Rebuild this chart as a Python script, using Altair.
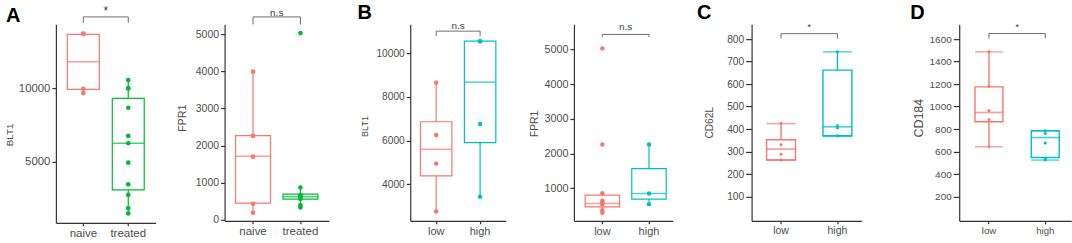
import altair as alt
import pandas as pd

FONT = "Liberation Sans"
RED = "#F8766D"
GREEN = "#00BA38"
CYAN = "#00BFC4"
AXIS_COL = "#333333"
LABEL_COL = "#4D4D4D"
BRACKET_COL = "#6E6E6E"

# ---------------- data ----------------
A_GROUPS = ["naive", "treated"]
B_GROUPS = ["low", "high"]
ALL_GROUPS = ["naive", "treated", "low", "high"]
GROUP_COLORS = [RED, GREEN, RED, CYAN]
PANEL_LETTERS = ["A", "B", "C", "D"]
Y_TITLES = ["BLT1", "FPR1", "BLT1", "FPR1", "CD62L", "CD184"]

# A - BLT1
A_BLT1_NAIVE = [13730, 13690, 9975, 9680]
A_BLT1_TREATED = [10560, 10010, 9990, 8680, 6770, 6270, 4950, 3480, 2760, 1860, 1500]
A_BLT1_Q1 = [9930, 3100]
A_BLT1_MED = [11805, 6270]
A_BLT1_Q3 = [13664, 9320]
A_BLT1_LO = [9680, 1500]
A_BLT1_HI = [13730, 10560]

# A - FPR1
A_FPR1_NAIVE = [3990, 2260, 1700, 430, 190]
A_FPR1_TREATED = [5030, 868, 664, 640, 618, 600, 560, 395, 331]
A_FPR1_Q1 = [449, 556]
A_FPR1_MED = [1712, 618]
A_FPR1_Q3 = [2266, 691]
A_FPR1_LO = [190, 331]
A_FPR1_HI = [3990, 868]

# B - BLT1
B_BLT1_LOW = [8650, 6256, 4943, 2750]
B_BLT1_HIGH = [10560, 10560, 6760, 3420]
B_BLT1_Q1 = [4380, 5910]
B_BLT1_MED = [5600, 8680]
B_BLT1_Q3 = [6865, 10560]
B_BLT1_LO = [2750, 3420]
B_BLT1_HI = [8650, 10560]

# B - FPR1
B_FPR1_LOW = [5030, 2260, 856, 635, 600, 540, 367, 289]
B_FPR1_HIGH = [2260, 845, 540]
B_FPR1_Q1 = [462, 683]
B_FPR1_MED = [557, 845]
B_FPR1_Q3 = [799, 1564]
B_FPR1_LO = [289, 540]
B_FPR1_HI = [856, 2260]

# C - CD62L
C_LOW = [424, 330, 288, 262]
C_HIGH = [743, 414, 404, 370]
C_Q1 = [262, 370]
C_MED = [311, 410]
C_Q3 = [352, 662]
C_LO = [262, 367]
C_HI = [424, 743]

# D - CD184
D_LOW = [1486, 1178, 962, 882, 642]
D_HIGH = [784, 760, 675, 541, 524]
D_Q1 = [864, 547]
D_MED = [947, 724]
D_Q3 = [1175, 784]
D_LO = [642, 524]
D_HI = [1486, 784]

# significance annotations
SIG_LABELS = ["*", "n.s", "n.s", "n.s", "*", "*"]
BRACKET_TOP = [14857, 5465, 11021, 5432, 824, 1649]
BRACKET_END = [14450, 5261, 10792, 5354, 802, 1604]
SIG_Y = [14972, 5497, 11110, 5570, 842, 1684]

# axis ranges and ticks
Y_DOMAINS = [[862, 14362], [-27, 5269], [2319, 11341], [59, 5728], [-8, 866], [-16, 1732]]
Y_TICKS = [
    [5000, 10000],
    [0, 1000, 2000, 3000, 4000, 5000],
    [4000, 6000, 8000, 10000],
    [1000, 2000, 3000, 4000, 5000],
    [100, 200, 300, 400, 500, 600, 700, 800],
    [200, 400, 600, 800, 1000, 1200, 1400, 1600],
]

# ---------------- layout / style (not data) ----------------
GEOM = [
    dict(W=100, H=199, s=45, c1=27.5, b=32, ylab=11.4, xlab=11.5, ts=9.8, tX=-46, tY=110.5, tick=4, ps=22, lw=1.2, sig=12, caps=False),
    dict(W=104.5, H=197, s=47.5, c1=28.5, b=35, ylab=10.5, xlab=11.5, ts=10.8, tX=-42.3, tY=93.7, tick=4, ps=22, lw=1.2, sig=10, caps=False),
    dict(W=95.7, H=197, s=44, c1=26, b=31.5, ylab=10.2, xlab=11, ts=9, tX=-46, tY=102, tick=4, ps=20, lw=1.2, sig=10, caps=False),
    dict(W=99, H=197, s=46.7, c1=28.5, b=34.5, ylab=10.8, xlab=11, ts=10.3, tX=-39.4, tY=99.5, tick=4, ps=20, lw=1.2, sig=10, caps=False),
    dict(W=110, H=197, s=56.5, c1=29.5, b=29, ylab=10.2, xlab=10.5, ts=10.2, tX=-41.7, tY=98.3, tick=6, ps=9, lw=1.4, sig=10, caps=True),
    dict(W=112.3, H=197, s=56.4, c1=29.8, b=28, ylab=10, xlab=9.6, ts=12.5, tX=-41, tY=93.7, tick=6, ps=9, lw=1.4, sig=10, caps=True),
]
SPACERS = [55, 69, 80.8, 67.7, 78.3, 97.7]
PLOT_TOP = 23

CSCALE = alt.Scale(domain=ALL_GROUPS, range=GROUP_COLORS)


def panel(i, groups, pts, q1, med, q3, lo, hi):
    g = GEOM[i]
    W, s, c1, b = g["W"], g["s"], g["c1"], g["b"]
    pi = 1 - b / s
    po = (W / s - 2 + pi) / 2
    left = W - s * (2 - pi)
    al = (c1 - b / 2) / left if left > 0 else 0.5
    al = min(max(al, 0), 1)

    xscale = alt.Scale(type="band", domain=groups, paddingInner=pi,
                       paddingOuter=po, align=al)
    xaxis = alt.Axis(title=None, labelAngle=0, labelFont=FONT,
                     labelFontSize=g["xlab"], labelColor=LABEL_COL,
                     tickSize=3, tickColor=AXIS_COL, domainColor=AXIS_COL,
                     domainWidth=1.2, tickWidth=1.2, labelPadding=2)
    yscale = alt.Scale(domain=Y_DOMAINS[i], zero=False, nice=False)
    yaxis = alt.Axis(values=Y_TICKS[i], format="d", title=Y_TITLES[i],
                     grid=False, labelFont=FONT, labelFontSize=g["ylab"],
                     labelColor=LABEL_COL, tickSize=g["tick"],
                     tickColor=AXIS_COL, domainColor=AXIS_COL,
                     domainWidth=1.2, tickWidth=1.2, labelPadding=2,
                     titleFont=FONT, titleFontSize=g["ts"],
                     titleFontWeight="normal", titleColor=LABEL_COL,
                     titleX=g["tX"], titleY=g["tY"], titleBaseline="middle",
                     titleAlign="center", titleAngle=270)

    def X():
        return alt.X("g:N", scale=xscale, axis=xaxis)

    def Y(f):
        return alt.Y(f, scale=yscale, axis=yaxis)

    col = alt.Color("g:N", scale=CSCALE, legend=None)
    strk = alt.Stroke("g:N", scale=CSCALE, legend=None)

    pts_df = pd.DataFrame({
        "g": [groups[0]] * len(pts[0]) + [groups[1]] * len(pts[1]),
        "v": list(pts[0]) + list(pts[1]),
    })
    box_df = pd.DataFrame({"g": groups, "q1": q1, "med": med, "q3": q3,
                           "lo": lo, "hi": hi})
    br_df = pd.DataFrame({
        "g": [groups[0], groups[0], groups[1], groups[1]],
        "v": [BRACKET_END[i], BRACKET_TOP[i], BRACKET_TOP[i], BRACKET_END[i]],
        "o": [0, 1, 2, 3],
    })
    sig_df = pd.DataFrame({"g": [groups[0]], "v": [SIG_Y[i]], "t": [SIG_LABELS[i]]})

    lw = g["lw"]
    layers = [
        alt.Chart(box_df).mark_rule(strokeWidth=lw).encode(
            x=X(), y=Y("lo:Q"), y2="hi:Q", color=col),
        alt.Chart(box_df).mark_bar(fill="white", strokeWidth=lw).encode(
            x=X(), y=Y("q1:Q"), y2="q3:Q", stroke=strk),
        alt.Chart(box_df).mark_tick(size=b, thickness=lw + 0.3).encode(
            x=X(), y=Y("med:Q"), color=col),
    ]
    if g["caps"]:
        layers.append(alt.Chart(box_df).mark_tick(size=b, thickness=lw).encode(
            x=X(), y=Y("lo:Q"), color=col))
        layers.append(alt.Chart(box_df).mark_tick(size=b, thickness=lw).encode(
            x=X(), y=Y("hi:Q"), color=col))
    layers += [
        alt.Chart(pts_df).mark_circle(size=g["ps"], opacity=1).encode(
            x=X(), y=Y("v:Q"), color=col),
        alt.Chart(br_df).mark_line(color=BRACKET_COL, strokeWidth=1).encode(
            x=X(), y=Y("v:Q"), order="o:Q"),
        alt.Chart(sig_df).mark_text(dx=s / 2, font=FONT, fontSize=g["sig"],
                                    color="#444444", baseline="alphabetic",
                                    align="center").encode(
            x=X(), y=Y("v:Q"), text="t:N"),
    ]
    return alt.layer(*layers).properties(width=W, height=g["H"])


def spacer(w, h, letter=None, lx=0, ly=0, anchor=False):
    base = alt.Chart(pd.DataFrame({"a": [0]}))
    if anchor:
        rule = base.mark_rule(color="white", strokeWidth=1).encode(
            x=alt.value(0), y=alt.value(-PLOT_TOP), y2=alt.value(0))
    else:
        rule = base.mark_rule(opacity=0).encode(
            x=alt.value(1), y=alt.value(0), y2=alt.value(1))
    layers = [rule]
    if letter is not None:
        layers.append(
            alt.Chart(pd.DataFrame({"t": [letter]})).mark_text(
                font=FONT, fontSize=20, fontWeight="bold", color="black",
                align="left", baseline="alphabetic").encode(
                x=alt.value(lx), y=alt.value(ly), text="t:N"))
    return alt.layer(*layers).properties(width=w, height=h)


pA1 = panel(0, A_GROUPS, [A_BLT1_NAIVE, A_BLT1_TREATED],
            A_BLT1_Q1, A_BLT1_MED, A_BLT1_Q3, A_BLT1_LO, A_BLT1_HI)
pA2 = panel(1, A_GROUPS, [A_FPR1_NAIVE, A_FPR1_TREATED],
            A_FPR1_Q1, A_FPR1_MED, A_FPR1_Q3, A_FPR1_LO, A_FPR1_HI)
pB1 = panel(2, B_GROUPS, [B_BLT1_LOW, B_BLT1_HIGH],
            B_BLT1_Q1, B_BLT1_MED, B_BLT1_Q3, B_BLT1_LO, B_BLT1_HI)
pB2 = panel(3, B_GROUPS, [B_FPR1_LOW, B_FPR1_HIGH],
            B_FPR1_Q1, B_FPR1_MED, B_FPR1_Q3, B_FPR1_LO, B_FPR1_HI)
pC = panel(4, B_GROUPS, [C_LOW, C_HIGH], C_Q1, C_MED, C_Q3, C_LO, C_HI)
pD = panel(5, B_GROUPS, [D_LOW, D_HIGH], D_Q1, D_MED, D_Q3, D_LO, D_HI)

s0 = spacer(SPACERS[0], 199, PANEL_LETTERS[0], 5, -2, anchor=True)
s1 = spacer(SPACERS[1], 197)
s2 = spacer(SPACERS[2], 197, PANEL_LETTERS[1], 28.2, -4.7)
s3 = spacer(SPACERS[3], 197)
s4 = spacer(SPACERS[4], 197, PANEL_LETTERS[2], 24.3, -4.7)
s5 = spacer(SPACERS[5], 197, PANEL_LETTERS[3], 49, -4.7)

chart = alt.hconcat(s0, pA1, s1, pA2, s2, pB1, s3, pB2, s4, pC, s5, pD,
                    spacing=0, bounds="flush").properties(
    padding=0, background="white"
).configure_view(stroke=None)

chart.save("out.html", embed_options={"renderer": "svg", "actions": False})
